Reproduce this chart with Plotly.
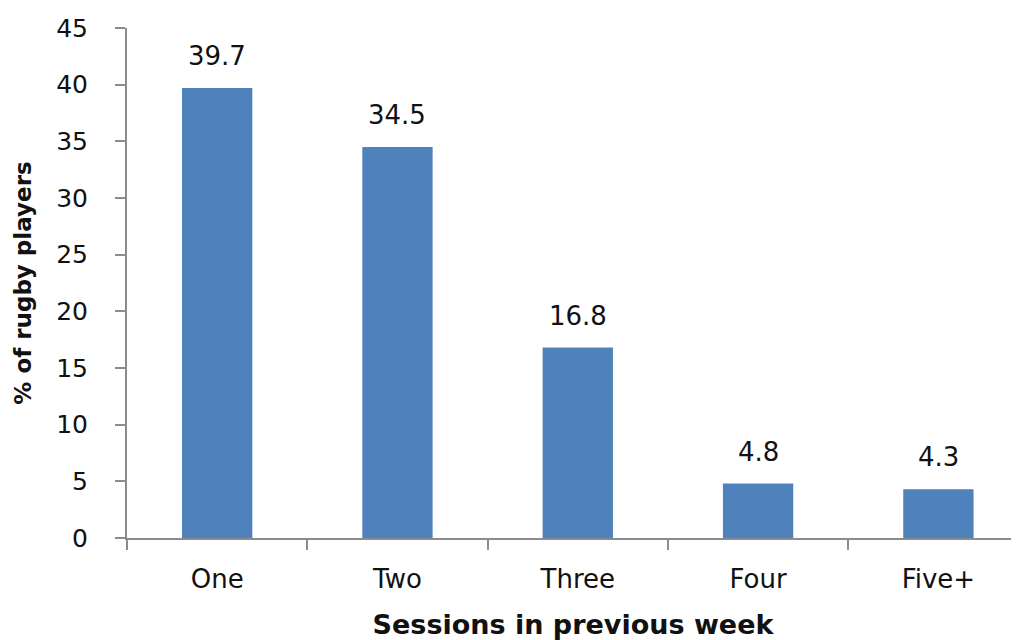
import plotly.graph_objects as go

categories = ["One", "Two", "Three", "Four", "Five+"]
values = [39.7, 34.5, 16.8, 4.8, 4.3]
labels = ["39.7", "34.5", "16.8", "4.8", "4.3"]
y_ticks = [0, 5, 10, 15, 20, 25, 30, 35, 40, 45]

fig = go.Figure()
fig.add_trace(go.Bar(x=categories, y=values, marker=dict(color="#4F81BD", line=dict(width=0)),
                     hoverinfo="skip"))

for c, v, t in zip(categories, values, labels):
    fig.add_annotation(x=c, y=v, text=t, showarrow=False, yanchor="bottom", yshift=15,
                       font=dict(family="DejaVu Sans", size=26, color="#111"))

fig.update_layout(
    width=1011, height=632,
    margin=dict(l=119, r=0, t=20, b=102),
    paper_bgcolor="white", plot_bgcolor="white",
    bargap=0.61, showlegend=False,
    font=dict(family="DejaVu Sans", color="#111"),
)
fig.update_xaxes(
    type="category", range=[-0.5, 4.447],
    showline=True, linecolor="#8c8c8c", linewidth=2,
    ticks="outside", ticklen=10, tickcolor="#8c8c8c", tickwidth=2,
    tickson="boundaries", showgrid=False,
    tickfont=dict(family="DejaVu Sans", size=26, color="#111"),
    ticklabelstandoff=17,
    title=dict(text="<b>Sessions in previous week</b>", standoff=29,
               font=dict(family="DejaVu Sans", size=27, color="#111")),
    automargin=False,
)
fig.update_yaxes(
    range=[0, 45], tickvals=y_ticks,
    showline=True, linecolor="#8c8c8c", linewidth=2,
    ticks="outside", ticklen=10, tickcolor="#8c8c8c", tickwidth=2,
    showgrid=False, zeroline=False,
    tickfont=dict(family="DejaVu Sans", size=25, color="#111"),
    ticklabelstandoff=22,
    title=dict(text="<b>% of rugby players</b>", standoff=18,
               font=dict(family="DejaVu Sans", size=23, color="#111")),
    automargin=False,
)

fig.write_html("out.html")
